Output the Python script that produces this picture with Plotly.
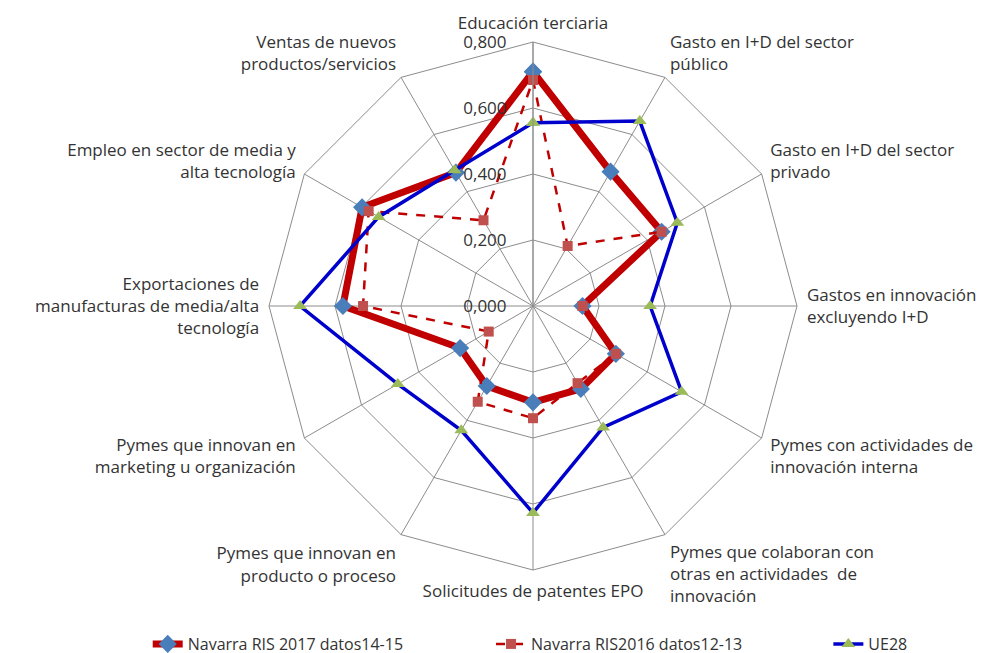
import plotly.graph_objects as go

categories = [
    "Educación terciaria",
    "Gasto en I+D del sector<br>público",
    "Gasto en I+D del sector<br>privado",
    "Gastos en innovación<br>excluyendo I+D",
    "Pymes con actividades de<br>innovación interna",
    "Pymes que colaboran con<br>otras en actividades  de<br>innovación",
    "Solicitudes de patentes EPO",
    "Pymes que innovan en<br>producto o proceso",
    "Pymes que innovan en<br>marketing u organización",
    "Exportaciones de<br>manufacturas de media/alta<br>tecnología",
    "Empleo en sector de media y<br>alta tecnología",
    "Ventas de nuevos<br>productos/servicios",
]

navarra_2017 = [0.710, 0.470, 0.450, 0.150, 0.290, 0.290, 0.292, 0.280, 0.255, 0.576, 0.598, 0.467]
navarra_2016 = [0.685, 0.210, 0.450, 0.150, 0.290, 0.270, 0.340, 0.335, 0.155, 0.515, 0.575, 0.300]
ue28 = [0.555, 0.647, 0.505, 0.355, 0.520, 0.425, 0.627, 0.435, 0.473, 0.706, 0.540, 0.475]

series_names = ["Navarra RIS 2017 datos14-15", "Navarra RIS2016 datos12-13", "UE28"]
radial_ticks = [0.0, 0.2, 0.4, 0.6, 0.8]

FONT = "Open Sans"
W, H = 998, 653
cx, cy, R = 525, 298, 264

def closed(v):
    return list(v) + [v[0]]

theta = closed(categories)

fig = go.Figure()
fig.add_trace(go.Scatterpolar(
    r=closed(navarra_2017), theta=theta, mode="lines+markers", name=series_names[0],
    line=dict(color="#C00000", width=7), legend="legend", showlegend=True,
    marker=dict(symbol="diamond", size=14, color="#4A7EBB", line=dict(width=0)),
))
fig.add_trace(go.Scatterpolar(
    r=closed(navarra_2016), theta=theta, mode="lines+markers", name=series_names[1],
    line=dict(color="#C00000", width=2.5, dash="dash"), legend="legend2", showlegend=True,
    marker=dict(symbol="square", size=10, color="#C0504D", line=dict(width=0)),
))
fig.add_trace(go.Scatterpolar(
    r=closed(ue28), theta=theta, mode="lines+markers", name=series_names[2],
    line=dict(color="#0000CC", width=3.5), legend="legend3", showlegend=True,
    marker=dict(symbol="triangle-up", size=12, color="#9BBB59", line=dict(width=0)),
))

legend_style = dict(
    orientation="h", xanchor="left", y=0.026, yanchor="middle", visible=True,
    font=dict(family=FONT, size=16, color="#333333"), bgcolor="rgba(0,0,0,0)",
)

fig.update_layout(
    width=W, height=H,
    margin=dict(l=0, r=0, t=0, b=0, autoexpand=False),
    paper_bgcolor="white",
    separators=",.",
    showlegend=True,
    font=dict(family=FONT, size=16, color="#333333"),
    polar=dict(
        domain=dict(x=[(cx - R) / W, (cx + R) / W], y=[1 - (cy + R) / H, 1 - (cy - R) / H]),
        bgcolor="white",
        gridshape="linear",
        angularaxis=dict(
            rotation=90, direction="clockwise", type="category",
            categoryorder="array", categoryarray=categories,
            gridcolor="#8C8C8C", gridwidth=1, linecolor="#8C8C8C", linewidth=1,
            ticks="outside", ticklen=6, tickcolor="rgba(0,0,0,0)",
            tickfont=dict(family=FONT, size=17, color="#333333"),
        ),
        radialaxis=dict(
            range=[0, 0.8], angle=90, side="counterclockwise", tickangle=90,
            tickvals=radial_ticks, tickformat=".3f",
            showline=True, linecolor="#8C8C8C", gridcolor="#8C8C8C", gridwidth=1,
            ticks="outside", ticklen=20, tickcolor="rgba(0,0,0,0)",
            tickfont=dict(family=FONT, size=17, color="#333333"),
        ),
    ),
    legend=dict(x=0.140, **legend_style),
    legend2=dict(x=0.484, **legend_style),
    legend3=dict(x=0.822, **legend_style),
)

fig.write_html("out.html")
